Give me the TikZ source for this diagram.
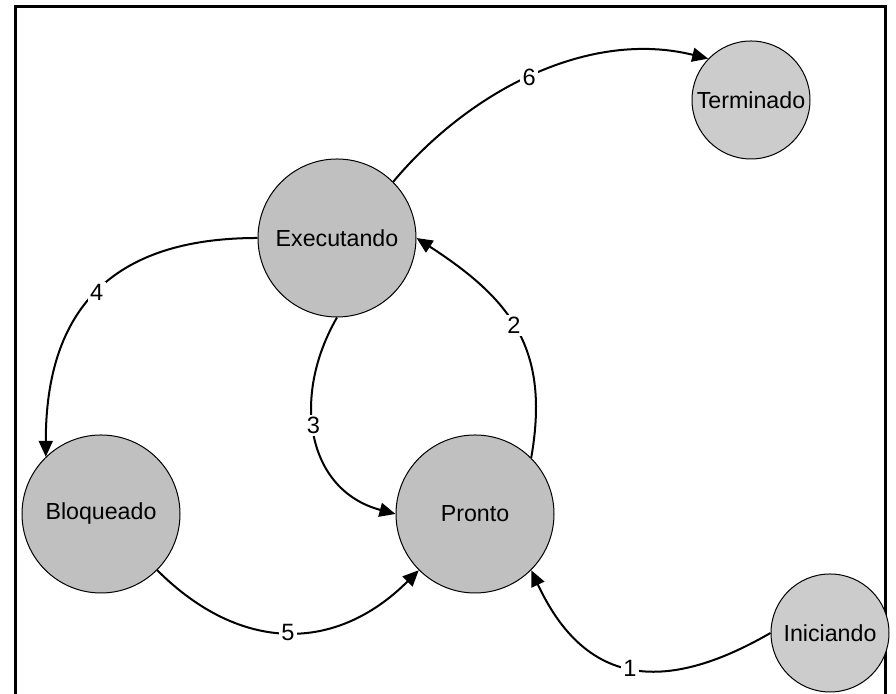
\documentclass[tikz,border=0pt]{standalone}
\usepackage{fontspec}
\setmainfont{Liberation Sans}
\usetikzlibrary{arrows.meta}
\definecolor{cinzaEstado}{HTML}{C0C0C0}
\definecolor{cinzaClaro}{HTML}{CCCCCC}

\begin{document}
\begin{tikzpicture}[x=0.5pt,y=0.5pt,
  estado/.style={circle, draw, line width=0.5pt, inner sep=0pt, font=\fontsize{11.6}{13}\selectfont},
  trans/.style={line width=1pt, -{Triangle[length=8pt,width=7pt]}},
  num/.style={fill=white, inner sep=1.2pt, font=\fontsize{11.8}{13}\selectfont}]
\useasboundingbox (0,0) rectangle (896,694);
\draw[line width=1.5pt] (15,-5) -- (15,687) -- (885,687) -- (885,-5);
\foreach \n/\x/\y/\d/\c/\t in {exec/337/456/79/cinzaEstado/Executando,
    pronto/475/180/79/cinzaEstado/Pronto, bloq/101/180/79/cinzaEstado/Bloqueado,
    term/751/594/59/cinzaClaro/Terminado, inic/830/61/59/cinzaClaro/Iniciando} {
  \node[estado, fill=\c, minimum size=\d pt] (\n) at (\x,\y) {\t};
}
\draw[trans] (inic.west) to[out=210,in=-65,looseness=1.3] node[num] {1} (pronto.-45);
\draw[trans] (pronto.45) to[out=80,in=-33,looseness=1.15] node[num,pos=0.52] {2} (exec.east);
\draw[trans] (exec.south) to[out=240,in=165,looseness=1.15] node[num,pos=0.45] {3} (pronto.west);
\draw[trans] (exec.west) to[out=180,in=90,looseness=1.23] node[num] {4} (bloq.134);
\draw[trans] (bloq.-45) to[out=-45,in=225,looseness=1.15] node[num] {5} (pronto.-135);
\draw[trans] (exec.45) to[out=50,in=166,looseness=0.92] node[num,pos=0.48] {6} (term.136);
\end{tikzpicture}
\end{document}
